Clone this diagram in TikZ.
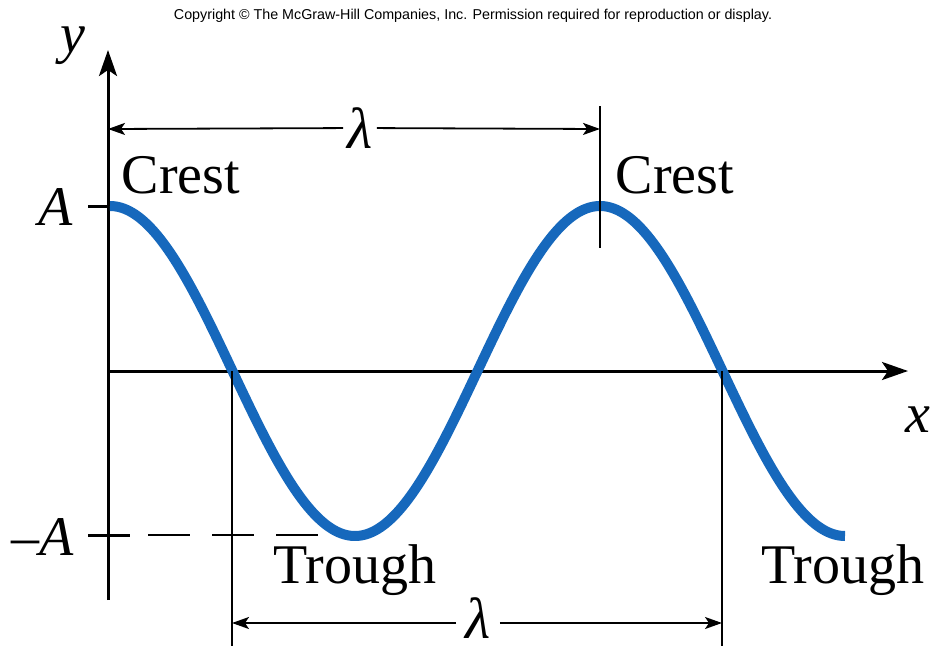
\documentclass[tikz,border=0pt]{standalone}
\usepackage{fontspec}
\setmainfont{Liberation Serif}
\newfontfamily\sansf{Liberation Sans}
\usetikzlibrary{arrows.meta}
\definecolor{waveblue}{RGB}{22,104,188}
\tikzset{
  axis/.style={line width=3pt,-{Stealth[length=26pt,width=18pt,inset=6pt]}},
  dimline/.style={line width=1.8pt,-{Stealth[length=17pt,width=12pt,inset=4pt]}},
  guide/.style={line width=1.8pt},
  tick/.style={line width=3pt},
  lbl/.style={inner sep=0pt,font=\fontsize{56}{60}\selectfont},
  lam/.style={inner sep=4pt,font=\fontsize{58}{60}\selectfont\itshape},
  wave/.style={line width=10pt,waveblue}
}
\begin{document}
\begin{tikzpicture}[x=1pt,y=-1pt]
\useasboundingbox (0,0) rectangle (930,646);
% copyright
\node[inner sep=0pt,font=\sansf\fontsize{14.3}{16}\selectfont] (copy) at (473,16) {Copyright © The McGraw-Hill Companies, Inc. Permission required for reproduction or display.};
% axes
\coordinate (ybot) at (108,600);
\coordinate (ytop) at (108,50);
\coordinate (xl) at (108,371);
\coordinate (xr) at (908,371);
\draw[axis] (ybot) -- (ytop);
\draw[axis] (xl) -- (xr);
\node[lbl,font=\fontsize{56}{60}\selectfont\itshape] (ylab) at (73,46) {y};
\node[lbl,font=\fontsize{56}{60}\selectfont\itshape,anchor=west] (xlab) at (905,420) {x};
% ticks
\coordinate (tA1) at (88,206);
\coordinate (tA2) at (108,206);
\draw[tick] (tA1) -- (tA2);
\node[lbl,font=\fontsize{56}{60}\selectfont\itshape] (Alab) at (56,207) {A};
\coordinate (tm1) at (88,535);
\coordinate (tm2) at (130,535);
\coordinate (trough1) at (355,535);
\draw[tick] (tm1) -- (tm2);
\draw[line width=1.8pt,dash pattern=on 42pt off 22pt] ([xshift=18pt]tm2) -- (trough1);
\node[lbl] (mAlab) at (43,537) {–\textit{A}};
% wave
\draw[wave] plot[domain=110:845,samples=300] (\x,{371-165*cos((\x-110)/490*360)});
% top lambda
\coordinate (tl) at (108,129);
\coordinate (tr) at (600,129);
\coordinate (vt1) at (600,106);
\coordinate (vt2) at (600,248);
\draw[guide] (vt1) -- (vt2);
\node[lam] (lamtop) at (360,128) {λ};
\draw[dimline] (lamtop) -- (tl);
\draw[dimline] (lamtop) -- (tr);
% bottom lambda
\coordinate (vb1a) at (232,371);
\coordinate (vb1b) at (232,646);
\coordinate (vb2a) at (722,371);
\coordinate (vb2b) at (722,646);
\draw[guide] (vb1a) -- (vb1b);
\draw[guide] (vb2a) -- (vb2b);
\coordinate (bl) at (232,623);
\coordinate (br) at (722,623);
\node[lam,inner xsep=9pt,inner ysep=0pt] (lambot) at (478,618) {λ};
\draw[dimline] (lambot.west |- bl) -- (bl);
\draw[dimline] (lambot.east |- br) -- (br);
% labels
\node[lbl] (crest1) at (181,175) {Crest};
\node[lbl] (crest2) at (675,175) {Crest};
\node[lbl] (trough1lab) at (355,570) {Trough};
\node[lbl] (trough2lab) at (843,570) {Trough};
\end{tikzpicture}
\end{document}
